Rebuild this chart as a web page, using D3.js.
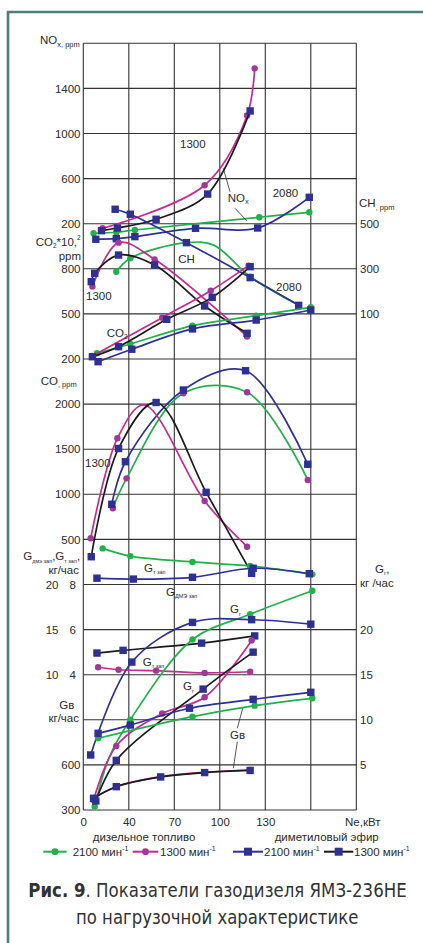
<!DOCTYPE html>
<html>
<head>
<meta charset="utf-8">
<script src="https://cdn.jsdelivr.net/npm/d3@7"></script>
<style>
  body { margin: 0; background: #fff; }
  svg { display: block; font-family: "Liberation Sans", Arial, Helvetica, sans-serif; }
</style>
</head>
<body>
<svg id="chart" width="423" height="943"></svg>
<script>
// grid columns (Ne, kW) - note the first step is 40, then 30
const gridKw = [0, 40, 70, 100, 130, 160, 190]
const xTickValues = [0, 40, 70, 100, 130]

// points: [Ne kW, value, marker? (0 = none)]
// NOx, ppm
const noxD2100 = [[9, 115], [29, 124], [44, 144], [126, 257], [159, 301]]
const noxD1300 = [[17, 159], [90, 541], [118, 1160], [123, 1578]]
const noxE2100 = [[11, 62], [29, 67], [44, 85], [84, 159], [125, 162], [159, 434]]
const noxE1300 = [[16, 138], [30, 162], [58, 239], [92, 463], [120, 1200]]
// CH, ppm
const chD2100 = [[29, 287], [41, 347], [78, 416], [96, 405, 0], [120, 265], [152, 139]]
const chD1300 = [[8, 221], [31, 416], [57, 342], [118, 0]]
const chE2100 = [[28, 564], [41, 542], [78, 416], [120, 261], [152, 138]]
const chE1300 = [[7, 243], [10, 280], [31, 361], [57, 317], [90, 135], [118, 14]]
// CO2 *10^2, ppm
const co2D2100 = [[12, 238], [41, 300], [82, 422], [124, 488], [160, 544]]
const co2D1300 = [[8, 220], [62, 475], [94, 654], [119, 821]]
const co2E2100 = [[13, 182], [42, 265], [82, 400], [124, 459], [160, 526]]
const co2E1300 = [[8, 215], [31, 282], [65, 464], [95, 610], [120, 814]]
// CO, ppm
const coD2100 = [[26, 845], [38, 1177], [76, 2120], [118, 2131], [158, 1159]]
const coD1300 = [[6.5, 512], [30, 1621], [50, 1990, 0], [90, 926], [118, 419]]
const coE2100 = [[25, 889], [37, 1361], [76, 2156], [117, 2370], [158, 1333]]
const coE1300 = [[7, 308], [31, 1508], [58, 2018], [91, 1022], [121, 124]]
// pilot fuel, kg/h (diesel - right column scale, DME - left column scale)
const gzapD2100 = [[17, 9.6], [41, 9.26], [82, 9.0], [120, 8.82], [161, 8.45]]
const gzapD1300 = [[13, 4.33], [31, 4.22], [58, 4.18], [90, 4.08], [120, 4.13]]
const gzapE2100 = [[12, 20.7], [43, 20.6], [82, 20.8], [122, 21.8], [159, 21.2]]
const gzapE1300 = [[12, 12.4], [35, 12.7], [88, 13.5], [123, 14.3]]
// gas, kg/h
const ggD2100 = [[10, 0.4], [23, 5.9, 0], [41, 10], [82, 18.9], [120, 21.7], [161, 24.3]]
const ggD1300 = [[9, 1.1], [29, 7.1], [62, 10.7], [90, 12.5], [121, 18.8]]
const ggE2100 = [[6.5, 6.1], [42, 16.4], [82, 20.8], [121, 21.1], [160, 20.6]]
const ggE1300 = [[11, 1.0], [29, 5.5], [89, 13.4], [122, 17.5]]
// air, kg/h
const gvD2100 = [[13, 777], [82, 921], [123, 994], [161, 1043]]
const gvD1300 = [[9, 380], [29, 455], [61, 522], [90, 551], [120, 566]]
const gvE2100 = [[13, 810], [41, 865], [80, 977], [122, 1036], [160, 1083]]
const gvE1300 = [[9, 378], [29, 455], [61, 520], [90, 549], [120, 563]]

// tick labels
const noxTicks = [1400, 1000, 600, 200]
const chTicks = [500, 300, 100]
const co2Ticks = [800, 500, 200]
const coTicks = [2000, 1500, 1000, 500]
const gDmeTicks = [20, 15, 10]
const gTTicks = [8, 6, 4]
const gGTicks = [20, 15, 10, 5]
const gVTicks = [600, 300]

const ink = '#2b2b2b'
const gridLeft = 83.3, colStep = 45.5, gridTop = 43.3, rowStep = 45.1, rows = 17
const rowY = i => gridTop + i * rowStep

const x = d3.scaleLinear().domain(gridKw).range(gridKw.map((d, i) => gridLeft + i * colStep))
const yScale = (v0, r0, v1, r1) => d3.scaleLinear().domain([v0, v1]).range([rowY(r0), rowY(r1)])
const y = {
  nox: yScale(1400, 1, 200, 4),
  ch: yScale(500, 4, 100, 6),
  co2: yScale(800, 5, 200, 7),
  co: yScale(2000, 8, 500, 11),
  gT: yScale(8, 12, 4, 14),
  gDme: yScale(20, 12, 10, 14),
  gG: yScale(20, 13, 5, 16),
  gV: yScale(600, 16, 300, 17)
}

const styles = {
  g: {line: '#22b04b', dot: '#22b04b', shape: 'circle'},
  gp: {line: '#22b04b', dot: '#a4369a', shape: 'circle'},
  m: {line: '#c42a8f', dot: '#a4369a', shape: 'circle'},
  b: {line: '#2e3192', dot: '#2e3192', shape: 'square'},
  k: {line: '#1a1a1a', dot: '#2e3192', shape: 'square'}
}

const svg = d3.select('#chart')
svg.append('rect').attr('width', 423).attr('height', 943).attr('fill', '#fff')

// frame
svg.append('path')
  .attr('d', 'M8,943V12H423')
  .attr('fill', 'none')
  .attr('stroke', '#4f7b79')
  .attr('stroke-width', 2.6)

// grid
const grid = svg.append('g').attr('stroke', '#333').attr('stroke-width', 1.1)
grid.selectAll('line.v').data(gridKw).join('line').attr('class', 'v')
  .attr('x1', d => x(d)).attr('x2', d => x(d))
  .attr('y1', rowY(0)).attr('y2', rowY(rows))
grid.selectAll('line.h').data(d3.range(rows + 1)).join('line').attr('class', 'h')
  .attr('x1', x(0)).attr('x2', x(190))
  .attr('y1', d => rowY(d)).attr('y2', d => rowY(d))

// side tick labels
function sideTicks(scale, values, xPos, right) {
  const ax = (right ? d3.axisRight(scale) : d3.axisLeft(scale))
    .tickValues(values).tickSize(0).tickPadding(0).tickFormat(d3.format('d'))
  const g = svg.append('g').attr('transform', `translate(${xPos},0)`).call(ax)
  g.select('.domain').remove()
  g.attr('font-size', 11.5).attr('font-family', null).attr('color', ink)
}
sideTicks(y.nox, noxTicks, 80.5)
sideTicks(y.co2, co2Ticks, 80.5)
sideTicks(y.co, coTicks, 80.5)
sideTicks(y.gV, gVTicks, 80.5)
sideTicks(y.gDme, gDmeTicks, 58.5)
sideTicks(y.gT, gTTicks, 76)
sideTicks(y.ch, chTicks, 360, true)
sideTicks(y.gG, gGTicks, 360, true)

const xAxis = svg.append('g').attr('transform', 'translate(0,817.5)')
  .call(d3.axisBottom(x).tickValues(xTickValues).tickSize(0).tickPadding(0).tickFormat(d3.format('d')))
xAxis.select('.domain').remove()
xAxis.attr('font-size', 11.5).attr('font-family', null).attr('color', ink)

// curves
const all = [
  [noxD2100, 'nox', 'g'], [noxE2100, 'nox', 'b'], [noxD1300, 'nox', 'm'], [noxE1300, 'nox', 'k'],
  [chD2100, 'ch', 'g'], [chE2100, 'ch', 'b'], [chD1300, 'ch', 'm'], [chE1300, 'ch', 'k'],
  [co2D2100, 'co2', 'g'], [co2E2100, 'co2', 'b'], [co2D1300, 'co2', 'm'], [co2E1300, 'co2', 'k'],
  [coD2100, 'co', 'gp'], [coE2100, 'co', 'b'], [coD1300, 'co', 'm'], [coE1300, 'co', 'k'],
  [gzapD2100, 'gT', 'g'], [gzapE2100, 'gDme', 'b'], [gzapD1300, 'gT', 'm'], [gzapE1300, 'gDme', 'k'],
  [ggD2100, 'gG', 'g'], [ggE2100, 'gG', 'b'], [ggD1300, 'gG', 'm'], [ggE1300, 'gG', 'k'],
  [gvD2100, 'gV', 'g'], [gvE2100, 'gV', 'b'], [gvD1300, 'gV', 'm'], [gvE1300, 'gV', 'k']
]

const plot = svg.append('g')
all.forEach(([data, key, s]) => {
  const ys = y[key], st = styles[s]
  const line = d3.line()
    .x(d => x(d[0]))
    .y(d => ys(d[1]))
    .curve(d3.curveCatmullRom.alpha(0.5))
  plot.append('path').datum(data)
    .attr('d', line)
    .attr('fill', 'none')
    .attr('stroke', st.line)
    .attr('stroke-width', 1.7)
  const pts = data.filter(d => d[2] !== 0)
  if (st.shape === 'circle') {
    plot.selectAll(null).data(pts).join('circle')
      .attr('cx', d => x(d[0])).attr('cy', d => ys(d[1]))
      .attr('r', 3.2).attr('fill', st.dot)
  } else {
    plot.selectAll(null).data(pts).join('rect')
      .attr('x', d => x(d[0]) - 3.7).attr('y', d => ys(d[1]) - 3.7)
      .attr('width', 7.4).attr('height', 7.4).attr('fill', st.dot)
  }
})

// rich text: parts [text, 'n' | 'sub' | 'sup']
function rich(px, py, parts, size = 11.5, anchor = 'start') {
  const t = svg.append('text').attr('x', px).attr('y', py)
    .attr('font-size', size).attr('text-anchor', anchor).attr('fill', ink)
  let shift = 0
  parts.forEach(([s, k = 'n', fs]) => {
    const target = k === 'sub' ? size * 0.22 : k === 'sup' ? -size * 0.45 : 0
    t.append('tspan').text(s)
      .attr('font-size', k === 'n' ? size : (fs || size * 0.6))
      .attr('dy', target - shift)
    shift = target
  })
  return t
}

// axis titles
rich(40, 44, [['NO'], ['x, ppm', 'sub', 7.5]])
rich(359, 207, [['CH'], [', ppm', 'sub', 7.5]])
rich(35.7, 245.5, [['CO'], ['2', 'sub', 6.5], ['*10,'], ['2', 'sup', 6.5]])
rich(81, 259.8, [['ppm']], 11.5, 'end')
rich(40.7, 384.7, [['CO'], [', ppm', 'sub', 7.5]])
rich(23.3, 560.2, [['G'], ['дмэ зап', 'sub', 5.5], [',G'], ['т зап', 'sub', 5.5], [',']])
rich(79, 573.5, [['кг/час']], 11.5, 'end')
rich(375, 572.5, [['G'], ['г', 'sub', 6], [',']])
rich(360, 586.5, [['кг /час']])
rich(59.3, 709, [['Gв']])
rich(79, 721.5, [['кг/час']], 11.5, 'end')

// in-plot labels
rich(180, 148.3, [['1300']])
rich(227.7, 201.7, [['NO'], ['x', 'sub', 7.5]])
rich(272.7, 196.7, [['2080']])
rich(178.3, 263.3, [['CH']])
rich(86, 299.7, [['1300']])
rich(276, 291.3, [['2080']])
rich(106.7, 336.7, [['CO'], ['2', 'sub', 6.5]])
rich(85, 467.3, [['1300']])
rich(144, 571.7, [['G'], ['т зап', 'sub', 5.5]])
rich(166, 595.7, [['G'], ['ДМЭ зап', 'sub', 5.5]])
rich(230, 613, [['G'], ['г', 'sub', 6]])
rich(142.7, 665.7, [['G'], ['т зап', 'sub', 5.5]])
rich(183, 690, [['G'], ['г', 'sub', 6]])
rich(230, 739, [['Gв']])

// leader lines
const leaders = [
  [223.3, 168.3, 230, 191.7],
  [235, 208.3, 246.7, 220.7],
  [237.3, 728.3, 242.7, 708.3],
  [237.3, 741.7, 233.3, 768.3]
]
svg.append('g').attr('stroke', ink).attr('stroke-width', 0.8)
  .selectAll('line').data(leaders).join('line')
  .attr('x1', d => d[0]).attr('y1', d => d[1]).attr('x2', d => d[2]).attr('y2', d => d[3])

// x axis title and fuel captions
rich(345, 825.7, [['Ne,кВт']])
rich(144, 840.8, [['дизельное топливо']], 11.5, 'middle')
rich(326.7, 840.8, [['диметиловый эфир']], 11.5, 'middle')

// legend
const legend = [
  {s: 'g', x0: 43.3, x1: 66.7, tx: 72.7, label: '2100 мин'},
  {s: 'm', x0: 132.7, x1: 158.3, tx: 160, label: '1300 мин'},
  {s: 'b', x0: 233, x1: 263, tx: 264, label: '2100 мин'},
  {s: 'k', x0: 324, x1: 353.3, tx: 354, label: '1300 мин'}
]
const ly = 851.7
legend.forEach(d => {
  const st = styles[d.s]
  svg.append('line').attr('x1', d.x0).attr('x2', d.x1).attr('y1', ly).attr('y2', ly)
    .attr('stroke', st.line).attr('stroke-width', 2)
  const cx = (d.x0 + d.x1) / 2
  if (st.shape === 'circle') {
    svg.append('circle').attr('cx', cx).attr('cy', ly).attr('r', 3.4).attr('fill', st.dot)
  } else {
    svg.append('rect').attr('x', cx - 4).attr('y', ly - 4).attr('width', 8).attr('height', 8).attr('fill', st.dot)
  }
  rich(d.tx, ly + 4.2, [[d.label], ['-1', 'sup', 7]])
})

// caption
const capFont = '"Liberation Sans Narrow", "DejaVu Sans Condensed", "Arial Narrow", sans-serif'
const cap1 = svg.append('text').attr('x', 28.3).attr('y', 897.3)
  .attr('font-family', capFont).attr('font-size', 19).attr('fill', '#333')
  .attr('textLength', 378.4).attr('lengthAdjust', 'spacingAndGlyphs')
cap1.append('tspan').attr('font-weight', 'bold').text('Рис. 9')
cap1.append('tspan').text('. Показатели газодизеля ЯМЗ-236НЕ')
svg.append('text').attr('x', 76).attr('y', 923.5)
  .attr('font-family', capFont).attr('font-size', 19).attr('fill', '#333')
  .attr('textLength', 282.3).attr('lengthAdjust', 'spacingAndGlyphs')
  .text('по нагрузочной характеристике')
</script>
</body>
</html>
